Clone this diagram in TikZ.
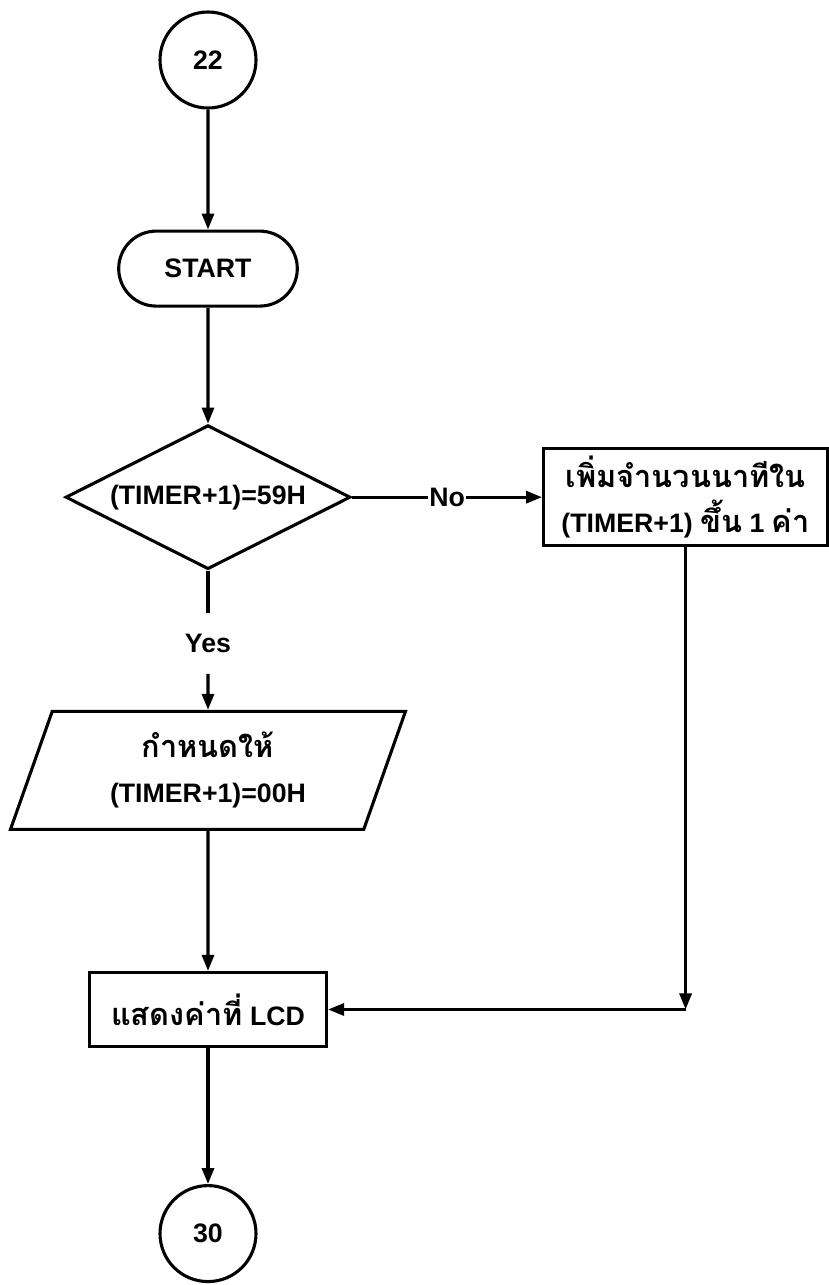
\documentclass[tikz,border=0pt]{standalone}
\usepackage{fontspec}
\setmainfont{Liberation Sans}
\newfontfamily\thaifont[Script=Thai, Scale=1.15]{Loma}
\usetikzlibrary{positioning, shapes.geometric, shapes.misc, arrows.meta, calc}

\begin{document}
\begin{tikzpicture}[
   every node/.style       = {font=\fontsize{19}{32}\selectfont\bfseries},
   line width              = 2.2pt,
         connectorNode/.style = {circle, draw, minimum size=2.4cm, inner sep=0pt},
         terminalNode/.style  = {rounded rectangle, draw, minimum width=4.7cm, minimum height=1.875cm},
         decisionNode/.style  = {diamond, draw, aspect=2, minimum width=7.125cm, minimum height=3.6cm, inner sep=0pt},
         processNode/.style   = {rectangle, draw, align=center, inner sep=2pt},
         ioNode/.style        = {trapezium, trapezium left angle=64, trapezium right angle=116, trapezium stretches body,
                                 draw, align=center, minimum width=9.875cm, minimum height=2.95cm},
         labelNode/.style     = {inner sep=1pt},
         myarrow/.style       = {-{Triangle[length=0.4cm, width=0.3cm]}}
]

\useasboundingbox (0,0) rectangle (20.725,-32.125);

\node[connectorNode] (c22) at (5.2,-1.5) {22};
\node[terminalNode, below=3.0cm of c22] (start) {START};
\node[decisionNode, below=2.9cm of start] (check) {(TIMER+1)=59H};

\draw[myarrow] (c22) -- (start);
\draw[myarrow] (start) -- (check);

    % minute not at 59 yet: add one
    \node[processNode, right=4.75cm of check, minimum width=7.1cm, minimum height=2.425cm] (addmin)
        {{\thaifont เพิ่มจำนวนนาทีใน}\\(TIMER+1) {\thaifont ขึ้น} 1 {\thaifont ค่า}};
    \draw[myarrow] (check) -- node[labelNode, fill=white] (no) {No} (addmin);

    % minute at 59: wrap round to zero
    \node[labelNode, below=1.05cm of check, minimum height=1.45cm] (yes) {Yes};
    \node[ioNode, below=0.9cm of yes] (setzero) {{\thaifont กำหนดให้}\\(TIMER+1)=00H};
    \draw (check) -- (yes);
    \draw[myarrow] (yes) -- (setzero);

\node[processNode, below=3.5cm of setzero, minimum width=5.925cm, minimum height=1.85cm] (show)
    {{\thaifont แสดงค่าที่} LCD};
\node[connectorNode, below=3.4cm of show] (c30) {30};

\coordinate (bend) at (addmin.south |- show.east);

\draw[myarrow] (setzero) -- (show);
\draw[myarrow] (addmin) -- (bend);
\draw[myarrow] (bend) -- (show);
\draw[myarrow] (show) -- (c30);

\end{tikzpicture}
\end{document}
